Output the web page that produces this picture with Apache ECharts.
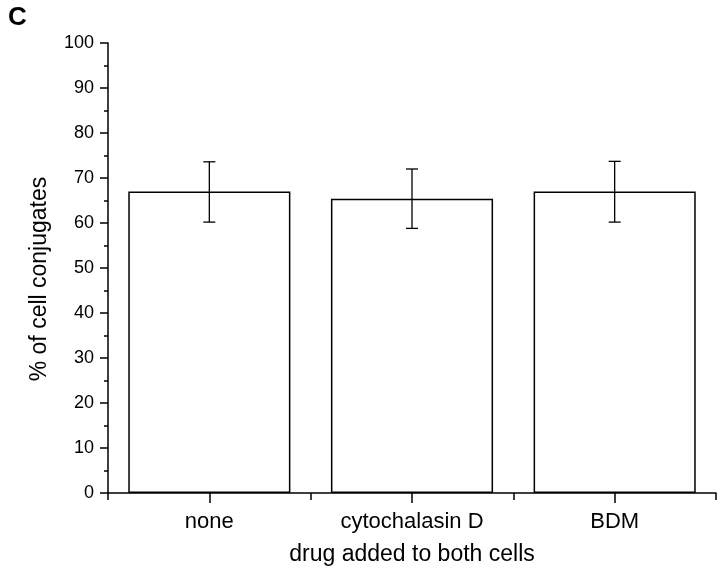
<!DOCTYPE html>
<html>
<head>
<meta charset="utf-8">
<script src="https://cdn.jsdelivr.net/npm/echarts@6/dist/echarts.min.js"></script>
<style>
  html, body { margin: 0; padding: 0; background: #fff; }
  #chart { width: 720px; height: 574px; }
</style>
</head>
<body>
<div id="chart"></div>
<script>
var categories = ['none', 'cytochalasin D', 'BDM']
var means = [67, 65.4, 67]
var errLow = [60.2, 58.8, 60.2]
var errHigh = [73.6, 72, 73.7]

var chart = echarts.init(document.getElementById('chart'))
var font = 'Liberation Sans, Arial, sans-serif'

chart.setOption({
  animation: false,
  title: {
    text: 'C',
    left: 3,
    top: 0,
    textStyle: { fontFamily: font, fontSize: 26, fontWeight: 'bold', color: '#000' }
  },
  grid: { left: 108, right: 4, top: 43, bottom: 81 },
  xAxis: [{
    type: 'category',
    data: categories,
    name: 'drug added to both cells',
    nameLocation: 'middle',
    nameGap: 50,
    nameTextStyle: { fontFamily: font, fontSize: 23, color: '#000' },
    axisLine: { lineStyle: { color: '#000', width: 1.5 } },
    axisTick: { show: true, alignWithLabel: true, length: 10, lineStyle: { color: '#000', width: 1.5 } },
    axisLabel: { fontFamily: font, fontSize: 22, color: '#000', margin: 18 },
    splitLine: { show: false }
  }, {
    type: 'category',
    data: categories,
    position: 'bottom',
    axisLine: { show: false },
    axisTick: { show: true, length: 7, lineStyle: { color: '#000', width: 1.5 } },
    axisLabel: { show: false },
    splitLine: { show: false }
  }],
  yAxis: {
    type: 'value',
    min: 0,
    max: 100,
    interval: 10,
    name: '% of cell conjugates',
    nameLocation: 'middle',
    nameGap: 57,
    nameTextStyle: { fontFamily: font, fontSize: 23, color: '#000', padding: [0, 22, 0, 0] },
    axisLine: { show: true, lineStyle: { color: '#000', width: 1.5 } },
    axisTick: { show: true, length: 8, lineStyle: { color: '#000', width: 1.5 } },
    minorTick: { show: true, splitNumber: 2, length: 4, lineStyle: { color: '#000', width: 1.5 } },
    axisLabel: { fontFamily: font, fontSize: 18, color: '#000', margin: 14 },
    splitLine: { show: false }
  },
  series: [{
    type: 'bar',
    data: means,
    barWidth: '80%',
    itemStyle: { color: '#fff', borderColor: '#000', borderWidth: 1.5 }
  }, {
    type: 'custom',
    data: categories.map(function (c, i) { return [i, errLow[i], errHigh[i]] }),
    renderItem: function (params, api) {
      var lo = api.coord([api.value(0), api.value(1)])
      var hi = api.coord([api.value(0), api.value(2)])
      var cap = 6
      var style = { stroke: '#000', lineWidth: 1.3 }
      return {
        type: 'group',
        children: [
          { type: 'line', shape: { x1: hi[0], y1: hi[1], x2: lo[0], y2: lo[1] }, style: style },
          { type: 'line', shape: { x1: hi[0] - cap, y1: hi[1], x2: hi[0] + cap, y2: hi[1] }, style: style },
          { type: 'line', shape: { x1: lo[0] - cap, y1: lo[1], x2: lo[0] + cap, y2: lo[1] }, style: style }
        ]
      }
    },
    z: 10
  }]
})
</script>
</body>
</html>
